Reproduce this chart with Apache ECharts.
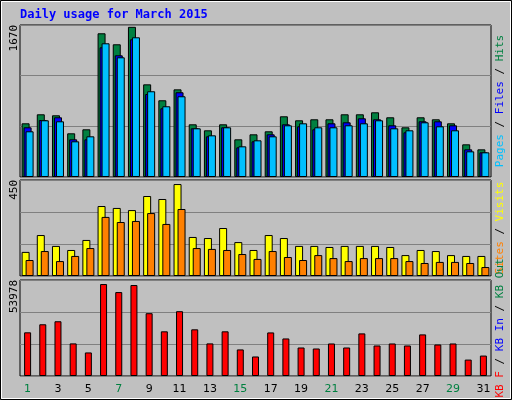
<!DOCTYPE html>
<html>
<head>
<meta charset="utf-8">
<script src="https://cdn.jsdelivr.net/npm/echarts@6/dist/echarts.min.js"></script>
<style>
  html, body { margin: 0; padding: 0; background: #c0c0c0; }
  #chart { width: 512px; height: 400px; }
</style>
</head>
<body>
<div id="chart"></div>
<script>
const days = ["1","2","3","4","5","6","7","8","9","10","11","12","13","14","15","16",
  "17","18","19","20","21","22","23","24","25","26","27","28","29","30","31"];
const weekendDays = ["1","7","8","14","15","21","22","28","29"];

const hits = [590,689,678,480,524,1579,1458,1650,1018,843,963,579,513,579,414,469,
  502,667,623,634,634,689,689,711,656,546,656,634,590,359,304];
const files = [546,626,656,414,414,1425,1337,1513,912,755,931,535,447,546,326,392,
  469,579,557,524,590,601,645,634,568,491,612,612,568,304,271];
const pages = [502,623,612,392,447,1469,1315,1535,942,777,887,535,458,546,337,403,
  447,568,590,546,546,568,590,623,535,513,601,557,513,282,271];
const visits = [113,192,141,122,169,328,319,309,375,361,431,183,178,225,159,122,
  192,178,141,141,136,141,141,141,136,98,122,117,98,94,94];
const sites = [75,117,70,94,131,277,253,258,295,244,314,131,127,122,103,80,
  117,89,75,98,84,70,84,84,84,70,61,66,66,61,42];
const kbytes = [24560,29080,30780,18330,13240,51710,47190,51150,35310,25120,36440,26250,18330,25120,14940,10980,
  24500,21110,16030,15470,18290,16030,23950,17160,18290,17160,23390,17720,18290,9230,11490];

const maxHits = 1670;
const maxVisits = 450;
const maxKB = 53978;

const chart = echarts.init(document.getElementById("chart"));
const mono = "DejaVu Sans Mono";

const panels = [
  { top: 25, height: 152, max: maxHits },
  { top: 180, height: 96, max: maxVisits },
  { top: 280, height: 96, max: maxKB },
];

function bar(name, data, color, axis, width, gap) {
  return {
    name, type: "bar", data, xAxisIndex: axis, yAxisIndex: axis,
    barWidth: width, barGap: gap,
    itemStyle: { color, borderColor: "#000", borderWidth: 1 },
    animation: false,
  };
}

function sideLabel(y, parts) {
  const rich = {};
  let text = "";
  parts.forEach(([s, c], i) => {
    rich["p" + i] = { fill: c, font: `11px ${mono}` };
    text += `{p${i}|${s}}`;
  });
  return {
    type: "text", x: 500, y, rotation: Math.PI / 2,
    style: { text, rich, align: "center", verticalAlign: "middle" },
  };
}

chart.setOption({
  backgroundColor: "#c0c0c0",
  grid: panels.map((p) => ({
    left: 20, right: 21, top: p.top, height: p.height,
    show: true, backgroundColor: "#c0c0c0", borderColor: "#000", borderWidth: 1,
  })),
  xAxis: panels.map((p, i) => ({
    type: "category", gridIndex: i, data: days,
    axisLine: { show: false }, axisTick: { show: false },
    axisLabel: i === 2 ? {
      show: true, fontSize: 11, fontFamily: "DejaVu Sans", margin: 8,
      color: (v) => (weekendDays.includes(v) ? "#008040" : "#000"),
    } : { show: false },
  })),
  yAxis: panels.map((p, i) => ({
    type: "value", gridIndex: i, min: 0, max: p.max, interval: p.max / 3,
    axisLabel: { show: false }, axisLine: { show: false }, axisTick: { show: false },
    splitLine: { lineStyle: { color: "#808080", width: 1 } },
  })),
  series: [
    bar("Hits", hits, "#008040", 0, 8, "-75%"),
    bar("Files", files, "#0000ff", 0, 8, "-75%"),
    bar("Pages", pages, "#00c0ff", 0, 8, "-75%"),
    bar("Visits", visits, "#ffff00", 1, 8, "-50%"),
    bar("Sites", sites, "#ff8000", 1, 8, "-50%"),
    bar("KB F", kbytes, "#ff0000", 2, 7, "0%"),
  ],
  graphic: [
    { type: "rect", shape: { x: 0.5, y: 0.5, width: 511, height: 399 },
      style: { fill: null, stroke: "#000", lineWidth: 1 } },
    { type: "rect", shape: { x: 1.5, y: 1.5, width: 509, height: 397 },
      style: { fill: null, stroke: "#fff", lineWidth: 1 } },
    { type: "text", x: 20, y: 9,
      style: { text: "Daily usage for March 2015", fill: "#0000ff", font: `bold 12px ${mono}` } },
    { type: "text", x: 14, y: 25, rotation: Math.PI / 2,
      style: { text: String(maxHits), fill: "#000", font: `11px ${mono}`, align: "right", verticalAlign: "middle" } },
    { type: "text", x: 14, y: 180, rotation: Math.PI / 2,
      style: { text: String(maxVisits), fill: "#000", font: `11px ${mono}`, align: "right", verticalAlign: "middle" } },
    { type: "text", x: 14, y: 280, rotation: Math.PI / 2,
      style: { text: String(maxKB), fill: "#000", font: `11px ${mono}`, align: "right", verticalAlign: "middle" } },
    sideLabel(101, [["Pages", "#00c0ff"], [" / ", "#000"], ["Files", "#0000ff"], [" / ", "#000"], ["Hits", "#008040"]]),
    sideLabel(228, [["Sites", "#ff8000"], [" / ", "#000"], ["Visits", "#ffff00"]]),
    sideLabel(328, [["KB F", "#ff0000"], [" / ", "#000"], ["KB In", "#0000ff"], [" / ", "#000"], ["KB Out", "#008040"]]),
  ],
});
</script>
</body>
</html>
